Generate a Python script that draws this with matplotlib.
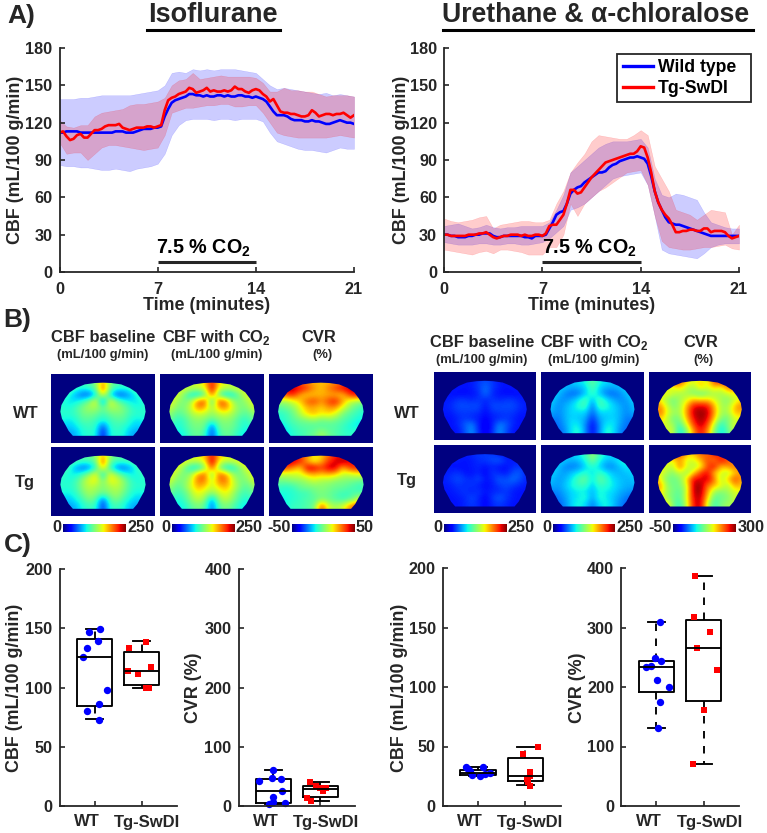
import numpy as np
import matplotlib
matplotlib.use("Agg")
import matplotlib.pyplot as plt
from matplotlib.lines import Line2D
from matplotlib.patches import Polygon

plt.rcParams['font.family'] = ['Liberation Sans', 'DejaVu Sans']
plt.rcParams['font.weight'] = 'bold'
plt.rcParams['mathtext.fontset'] = 'custom'
plt.rcParams['mathtext.bf'] = 'Liberation Sans:bold'
plt.rcParams['mathtext.rm'] = 'Liberation Sans:bold'

W, H = 767, 833
INK = '#262626'
FS = 12.9
TICK = 11.7
HEAD = 11.9

time_line = [i * 0.25 for i in range(85)]
time_band = [i * 0.5 for i in range(43)]

iso_wt = [112,112,113,113,113,113,112,112, 112,112,112,112,112,112,112,112,
          113,113,113,112,112,112,113,114, 115,115,115,116, 116,117,125,131,
          136,138,139,140, 141,143,143,142, 142,141,142,141, 141,142,142,141,
          142,141,141,142, 142,141,141,140, 141,140,139,137, 133,129,126,126,
          126,125,123,122, 122,122,121,121, 122,121,121,120, 119,119,120,121,
          122,121,120,120, 119]
iso_tg = [112,113,109,106, 107,110,111,108, 108,111,114,114, 115,117,118,118,
          118,119,116,115, 114,115,116,116, 116,117,117,116, 117,118,130,138,
          140,141,143,144, 145,148,147,144, 145,146,148,145, 146,145,145,146,
          145,146,149,147, 147,145,144,146, 147,146,143,141, 137,139,134,129,
          128,128,127,127, 126,125,125,126, 130,128,125,126, 127,127,126,127,
          127,128,126,124, 126]
iso_wt_hi = [139,139,139,140,140,141,142,142,142,142,142,143,144,145,146,150,160,161,160,163,162,163,162,163,163,163,162,161,160,155,150,147,148,147,146,145,144,143,144,142,143,142,141]
iso_wt_lo = [86,85,85,84,84,83,82,82,83,82,81,83,84,85,87,95,110,118,122,123,123,123,122,123,123,122,123,123,123,121,112,105,103,101,99,98,98,97,96,98,100,99,99]
iso_tg_hi = [122,117,116,118,118,125,128,129,130,131,134,135,135,136,137,140,150,154,155,160,155,156,157,158,157,157,157,157,156,152,145,145,148,146,146,145,145,143,141,142,142,142,141]
iso_tg_lo = [104,95,96,96,90,95,100,102,102,101,100,99,98,99,100,110,128,130,132,132,133,134,134,135,135,133,133,134,134,128,120,112,110,109,108,108,108,108,108,109,110,109,108]

ure_wt = [30,30,29,29, 28,28,28,29, 29,30,30,31, 31,31,29,28, 28,29,29,29, 29,29,29,28,
          28,27,29,29, 29,30,35,40, 46,48,49,55, 63,66,68,69, 72,74,76,78, 80,80,81,84,
          86,87,89,90, 91,92,92,93, 92,91,87,77, 65,56,50,44, 40,39,38,38, 37,36,35,34,
          33,32,31,30, 29,29,29,29, 29,29,29,29, 29]
ure_tg = [30,30,29,29, 29,29,29,30, 30,30,31,31, 32,30,28,27, 28,29,29,30, 30,30,29,30,
          29,29,30,30, 29,31,37,38, 38,42,46,55, 66,66,63,64, 68,72,76,79, 82,85,88,89,
          90,91,92,93, 94,95,95,97, 101,100,92,80, 65,56,50,46, 43,38,32,32, 33,33,34,34,
          33,33,35,35, 32,33,33,33, 32,29,27,28, 29]
ure_wt_hi = [37,38,39,37,35,36,38,36,35,36,36,37,37,37,37,40,50,62,80,85,90,95,100,103,105,105,105,106,107,100,75,62,60,63,62,60,58,48,40,38,36,35,35]
ure_wt_lo = [24,23,22,22,22,23,23,22,22,23,23,22,22,23,24,27,32,37,50,52,55,60,65,70,75,77,78,79,80,70,45,18,15,14,13,12,11,15,20,22,23,23,23]
ure_tg_hi = [43,41,40,41,42,44,45,35,38,39,40,41,41,40,40,42,55,65,80,88,95,105,110,109,108,107,107,110,114,110,85,75,65,50,48,46,42,46,50,49,48,30,38]
ure_tg_lo = [18,17,16,15,14,16,17,15,18,18,17,16,14,14,14,20,20,30,55,45,55,60,65,68,72,76,80,81,82,70,45,25,20,19,18,18,19,20,20,21,22,19,18]

co2_window = [7, 14]

# Maps: percent of the colour range on a coarse grid
map_iso_wt_base = [
 [42,42,42,42,42,45,50,75,50,45,42,42,42,42,42],
 [42,42,45,42,38,40,48,85,48,40,38,42,45,42,42],
 [42,42,40,30,22,20,35,65,35,20,22,30,40,42,42],
 [40,40,35,35,40,50,65,20,65,50,40,35,35,40,40],
 [40,40,38,42,50,55,55,48,55,55,50,42,38,40,40],
 [42,40,40,42,48,50,48,42,48,50,48,42,40,40,42],
 [38,38,35,38,45,45,42,38,42,45,45,38,35,38,38],
 [35,35,32,35,40,42,40,20,40,42,40,35,32,35,35],
 [30,30,28,30,38,40,38,12,38,40,38,30,28,30,30]]
map_iso_wt_co2 = [
 [50,50,50,50,55,62,68,90,68,62,55,50,50,50,50],
 [55,55,60,62,60,58,62,95,62,58,60,62,60,55,55],
 [60,60,62,50,35,32,45,82,45,32,35,50,62,60,60],
 [62,62,55,48,55,80,85,35,85,80,55,48,55,62,62],
 [60,60,50,50,60,78,72,55,72,78,60,50,50,60,60],
 [52,52,45,48,55,60,58,52,58,60,55,48,45,52,52],
 [48,48,40,42,50,52,50,45,50,52,50,42,40,48,48],
 [42,42,38,42,48,50,48,22,48,50,48,42,38,42,42],
 [38,38,35,38,45,48,42,18,42,48,45,38,35,38,38]]
map_iso_wt_cvr = [
 [75,80,85,85,80,75,72,70,72,75,80,85,85,80,75],
 [85,90,95,95,92,85,75,70,78,85,92,95,95,88,80],
 [72,78,85,88,72,68,70,72,72,72,68,85,92,85,72],
 [58,55,55,62,70,82,85,75,85,90,75,60,55,52,50],
 [45,45,48,52,62,72,72,68,75,75,62,52,45,42,42],
 [40,40,42,48,58,68,72,65,68,62,50,45,42,38,38],
 [38,38,42,45,48,50,52,48,50,48,45,42,38,35,55],
 [32,32,38,42,45,45,45,45,45,45,42,38,35,35,60],
 [30,30,35,40,42,45,48,55,48,45,42,40,42,60,70]]
map_iso_tg_base = [
 [42,42,42,42,45,48,52,72,52,48,45,42,42,42,42],
 [42,42,45,45,42,42,48,85,48,42,42,45,45,42,42],
 [45,45,42,30,22,25,40,70,40,25,22,30,42,45,45],
 [42,42,38,36,42,52,65,32,65,52,42,36,38,42,42],
 [40,40,38,42,52,62,65,48,65,62,52,42,38,40,40],
 [42,40,40,42,52,58,55,50,55,58,52,42,40,40,42],
 [38,38,36,40,48,55,52,48,52,55,48,40,36,38,38],
 [35,35,32,36,42,50,45,22,45,50,42,36,32,35,35],
 [30,30,28,30,38,42,40,15,40,42,38,30,28,30,30]]
map_iso_tg_co2 = [
 [52,52,55,55,60,65,70,92,70,65,60,55,55,52,52],
 [58,60,65,65,60,58,65,97,65,58,60,65,65,60,58],
 [65,65,62,50,35,35,50,85,50,35,35,50,62,65,65],
 [65,62,55,48,55,75,82,45,82,75,55,48,55,62,65],
 [62,60,50,50,60,80,78,58,78,80,60,50,50,60,62],
 [55,52,45,50,62,72,68,58,68,72,62,50,45,52,55],
 [48,48,42,45,55,65,58,52,58,65,55,45,42,48,48],
 [42,42,38,42,52,58,52,28,52,58,52,42,38,42,42],
 [38,38,35,38,45,50,45,22,45,50,45,38,35,38,38]]
map_iso_tg_cvr = [
 [78,85,90,90,85,75,65,68,80,88,90,88,85,80,78],
 [85,92,95,95,88,72,62,72,85,92,98,92,88,80,75],
 [78,82,85,75,68,95,95,85,95,95,70,85,90,82,75],
 [65,60,58,60,62,70,72,70,72,68,60,58,62,65,60],
 [48,48,50,52,52,55,60,55,55,52,50,50,48,45,50],
 [42,42,40,42,48,50,50,52,50,48,48,45,42,42,55],
 [38,38,38,40,42,42,48,50,48,45,42,42,45,40,65],
 [35,35,38,40,42,45,45,50,48,45,42,45,55,70,75],
 [30,30,38,42,42,45,48,85,60,55,60,75,85,80,60]]
map_ure_wt_base = [
 [14,14,14,14,14,15,18,20,18,15,14,14,14,14,14],
 [14,14,15,15,14,15,18,24,18,15,14,15,15,14,14],
 [15,15,14,13,13,14,16,24,16,14,13,13,14,15,15],
 [15,15,15,18,18,16,18,16,18,16,18,18,15,15,15],
 [15,15,17,20,20,20,20,14,20,20,20,20,17,15,15],
 [15,15,15,18,18,18,17,13,17,18,18,18,15,15,15],
 [14,14,14,16,18,16,15,12,15,16,18,16,14,14,14],
 [14,14,14,16,22,26,15,10,15,26,22,16,14,14,14],
 [14,14,14,14,20,28,16,10,16,28,20,14,14,14,14]]
map_ure_wt_co2 = [
 [28,28,28,28,32,35,38,48,38,35,32,28,28,28,28],
 [30,30,33,32,30,30,34,45,34,30,30,32,33,30,30],
 [34,34,32,26,22,24,32,42,32,24,22,26,32,34,34],
 [34,34,28,26,30,36,45,30,45,36,30,26,28,34,34],
 [32,32,26,30,34,40,44,22,44,40,34,30,26,32,32],
 [28,30,26,30,34,34,34,22,34,34,34,30,26,30,28],
 [24,26,24,30,34,32,30,16,30,32,34,30,24,26,24],
 [22,22,24,28,36,36,26,12,26,36,36,28,24,22,22],
 [20,20,22,26,36,40,26,12,26,40,36,26,22,20,20]]
map_ure_wt_cvr = [
 [62,70,78,90,85,70,62,68,60,85,90,85,70,60,60],
 [65,68,62,60,70,58,55,70,62,70,62,80,78,62,60],
 [70,62,65,60,55,55,50,45,50,55,55,60,65,62,72],
 [82,65,55,48,55,62,72,68,70,62,55,50,60,65,80],
 [72,78,62,50,55,72,90,92,90,72,55,55,70,80,72],
 [62,85,65,55,55,75,95,98,95,75,55,55,72,72,60],
 [55,72,60,48,50,72,90,98,92,70,50,48,60,65,55],
 [50,65,60,55,42,62,85,95,85,58,38,50,62,55,50],
 [50,55,60,60,35,50,75,90,78,50,35,45,60,55,50]]
map_ure_tg_base = [
 [14,14,14,14,15,16,18,18,18,15,14,14,14,14,14],
 [14,14,15,16,14,15,17,18,20,22,16,15,15,14,14],
 [15,15,14,13,14,15,16,14,16,14,14,16,18,15,15],
 [15,15,16,18,14,14,16,12,18,16,14,20,22,15,15],
 [16,15,18,20,18,16,20,14,16,22,20,24,20,16,15],
 [15,15,15,18,16,18,15,13,15,18,20,18,16,15,15],
 [14,14,15,16,18,15,18,14,16,16,18,15,14,14,14],
 [14,14,14,15,16,20,16,12,18,22,18,15,14,14,14],
 [14,14,14,14,16,18,16,12,16,18,16,14,14,14,14]]
map_ure_tg_co2 = [
 [30,30,30,30,33,36,42,55,42,36,33,30,30,30,30],
 [32,32,34,33,30,32,38,50,38,32,32,38,40,32,32],
 [34,34,32,26,24,26,34,40,34,26,26,32,36,34,34],
 [34,34,30,28,32,36,40,34,42,36,32,30,32,34,34],
 [32,32,28,30,36,44,48,34,48,42,34,32,30,32,32],
 [30,30,28,32,38,42,42,32,42,40,36,32,30,30,30],
 [26,26,26,30,34,36,36,30,38,36,34,30,28,26,26],
 [22,22,24,28,34,36,40,28,40,36,32,28,24,22,22],
 [20,20,22,26,34,38,34,24,34,38,32,26,22,20,20]]
map_ure_tg_cvr = [
 [62,70,78,88,85,72,68,82,78,90,85,78,62,60,60],
 [65,60,68,62,75,60,62,70,85,75,92,85,70,60,60],
 [72,68,60,58,80,62,55,62,82,92,70,75,82,70,72],
 [78,62,58,50,62,50,68,85,92,70,62,55,68,78,72],
 [85,65,50,48,50,68,92,90,95,80,55,70,85,72,80],
 [65,80,55,48,50,60,95,98,80,72,65,55,75,70,62],
 [62,72,55,50,45,60,95,98,75,55,50,55,60,65,60],
 [55,68,55,48,45,62,92,95,70,45,48,50,60,55,55],
 [50,60,70,50,40,60,90,95,60,42,50,55,55,80,60]]
brain_outline = [(.50,.13),(.42,.135),(.325,.155),(.245,.205),(.18,.27),(.135,.36),(.10,.455),(.09,.55),
                 (.105,.65),(.14,.745),(.17,.83),(.21,.90),(.79,.90),(.83,.83),(.86,.745),(.895,.65),
                 (.91,.55),(.90,.455),(.865,.36),(.82,.27),(.755,.205),(.675,.155),(.58,.135)]

# Box summaries: low whisker, q1, median, q3, high whisker
box_c1_wt = [73, 84, 126, 141, 149]
box_c1_tg = [100, 102, 114, 130, 139]
box_c2_wt = [3, 5, 25, 46, 60]
box_c2_tg = [8, 16, 29, 33, 41]
box_c3_wt = [25, 26, 28, 30, 33]
box_c3_tg = [17.5, 21, 25, 40, 50]
box_c4_wt = [131, 192, 233, 244, 309]
box_c4_tg = [71, 177, 265, 313, 386]

pts_c1_wt_x = [0.87, 1.11, 1.07, 0.84, 0.74, 1.26, 1.09, 0.84, 1.09]
pts_c1_wt_y = [146.6, 149, 139.6, 133.4, 126, 98, 86, 80, 72.8]
pts_c1_tg_x = [1.73, 2.10, 2.20, 1.70, 1.91, 2.10, 2.16]
pts_c1_tg_y = [133.7, 138.8, 117.7, 113.8, 111.8, 100, 100]
pts_c2_wt_x = [0.99, 0.70, 0.96, 1.17, 1.18, 0.99, 0.98, 0.90, 1.25]
pts_c2_wt_y = [60, 42.7, 47, 46, 25, 16, 6.7, 3, 5]
pts_c2_tg_x = [1.79, 1.91, 2.13, 1.99, 2.06, 1.72, 1.81]
pts_c2_tg_y = [41, 34, 31, 30, 25, 13.5, 8]
pts_c3_wt_x = [0.75, 0.79, 0.83, 0.88, 1.05, 1.11, 1.15, 1.26]
pts_c3_wt_y = [32.5, 31, 29, 26, 25, 33, 27, 28]
pts_c3_tg_x = [2.27, 1.96, 2.09, 2.09, 2.03, 2.05, 2.11]
pts_c3_tg_y = [50, 44, 28.6, 25, 23, 20.5, 17]
pts_c4_wt_x = [1.08, 0.98, 1.09, 0.77, 0.88, 1.02, 1.26, 1.08, 1.03]
pts_c4_wt_y = [309, 248, 244, 233, 234.5, 211, 200, 174, 131]
pts_c4_tg_x = [1.81, 1.80, 2.13, 1.87, 2.29, 2.01, 1.78]
pts_c4_tg_y = [386.5, 317.5, 293, 265, 228, 161, 71]

box_names = ['WT', 'Tg-SwDI']
trace_names = ['Wild type', 'Tg-SwDI']
BLUE, RED = '#0000ff', '#ff0000'

fig = plt.figure(figsize=(W / 100, H / 100), dpi=100, facecolor='white')


def add_axes(x0, y0, x1, y1):
    return fig.add_axes([x0 / W, 1 - y1 / H, (x1 - x0) / W, (y1 - y0) / H])


def txt(x, y, s, size=FS, ha='center', va='center', rot=0, color=INK):
    return fig.text(x / W, 1 - y / H, s, fontsize=size, ha=ha, va=va,
                    rotation=rot, color=color, fontweight='bold')


def style(ax):
    for s in ('top', 'right'):
        ax.spines[s].set_visible(False)
    for s in ('left', 'bottom'):
        ax.spines[s].set_linewidth(1.3)
        ax.spines[s].set_color(INK)
    ax.tick_params(direction='in', length=3.5, width=1.2, color=INK, labelcolor=INK,
                   labelsize=TICK)
    ax.tick_params(axis='x', pad=7)
    ax.tick_params(axis='y', pad=5)
    ax.patch.set_alpha(0)


def trace_panel(rect, wt, wt_lo, wt_hi, tg, tg_lo, tg_hi, label_x):
    ax = add_axes(*rect)
    style(ax)
    for m, lo, hi, c in ((wt, wt_lo, wt_hi, BLUE), (tg, tg_lo, tg_hi, RED)):
        ax.fill_between(time_band, lo, hi, color=c, alpha=0.2, lw=0.3)
        ax.plot(time_line, m, color=c, lw=1.9, solid_joinstyle='round')
    ax.set_xlim(0, 21)
    ax.set_ylim(0, 180)
    ax.set_xticks([0, 7, 14, 21])
    ax.set_yticks(range(0, 181, 30))
    ax.plot(co2_window, [8.3, 8.3], color=INK, lw=2.2, solid_capstyle='butt')
    ax.text(label_x, 19, r'7.5 % CO$_{\mathbf{2}}$', fontsize=14.2, color='black',
            ha='center', va='center', fontweight='bold')
    return ax


trace_panel((59.5, 48, 354, 272), iso_wt, iso_wt_lo, iso_wt_hi, iso_tg, iso_tg_lo, iso_tg_hi, 10.3)
ax2 = trace_panel((444, 48, 739, 272), ure_wt, ure_wt_lo, ure_wt_hi, ure_tg, ure_tg_lo, ure_tg_hi, 10.36)
handles = [Line2D([], [], color=BLUE, lw=2.4), Line2D([], [], color=RED, lw=2.4)]
leg = ax2.legend(handles, trace_names, loc='upper left',
                 bbox_to_anchor=(617.3 / W, 1 - 99 / H, 133.4 / W, 45 / H),
                 bbox_transform=fig.transFigure, mode='expand',
                 borderaxespad=0, fontsize=12.7, fancybox=False, framealpha=1, edgecolor=INK,
                 handlelength=1.75, handletextpad=0.25, labelspacing=0.2, borderpad=0.3,
                 labelcolor='black')
leg.get_frame().set_linewidth(1.3)

for x, ylab in ((16, 'CBF (mL/100 g/min)'), (401, 'CBF (mL/100 g/min)')):
    txt(x, 160, ylab, rot=90)
txt(207, 306, 'Time (minutes)')
txt(592, 306, 'Time (minutes)')

txt(213, 15, 'Isoflurane', size=19.5)
txt(596, 15, 'Urethane & α-chloralose', size=19.2)
fig.add_artist(Line2D([147 / W, 280 / W], [1 - 30 / H] * 2, color='black', lw=2.2))
fig.add_artist(Line2D([442.7 / W, 753 / W], [1 - 30 / H] * 2, color='black', lw=2.2))
txt(7, 16, 'A)', size=19, ha='left')
txt(3, 320, 'B)', size=19, ha='left')
txt(4, 545, 'C)', size=19, ha='left')


def brain(rect, grid):
    ax = add_axes(*rect)
    ax.set_facecolor(plt.get_cmap('jet')(0.0))
    im = ax.imshow(grid, cmap='jet', vmin=0, vmax=100, aspect='auto',
                   extent=(0, 1, .91, .09), interpolation='bicubic')
    ax.set_xlim(0, 1)
    ax.set_ylim(1, 0)
    ax.set_xticks([])
    ax.set_yticks([])
    for s in ax.spines.values():
        s.set_visible(False)
    im.set_clip_path(Polygon(brain_outline, transform=ax.transData))


iso_cols = [(51, 155), (160, 264), (268.7, 373)]
iso_rows = [(373.7, 442.7), (446.7, 515.7)]
ure_cols = [(433.7, 536), (541.3, 643.7), (648.7, 751)]
ure_rows = [(372, 440), (445.3, 513.3)]
iso_maps = [[map_iso_wt_base, map_iso_wt_co2, map_iso_wt_cvr],
            [map_iso_tg_base, map_iso_tg_co2, map_iso_tg_cvr]]
ure_maps = [[map_ure_wt_base, map_ure_wt_co2, map_ure_wt_cvr],
            [map_ure_tg_base, map_ure_tg_co2, map_ure_tg_cvr]]
for rows, cols, maps in ((iso_rows, iso_cols, iso_maps), (ure_rows, ure_cols, ure_maps)):
    for (y0, y1), row in zip(rows, maps):
        for (x0, x1), grid in zip(cols, row):
            brain((x0, y0, x1, y1), grid)

ramp = np.linspace(0, 1, 256)[None, :]
bars = [(62.7, 125.7, '0', '250'), (171.7, 234.3, '0', '250'), (292, 354.3, '-50', '50'),
        (444, 506.3, '0', '250'), (552.7, 614.7, '0', '250'), (673.3, 735.7, '-50', '300')]
for x0, x1, lo, hi in bars:
    ax = add_axes(x0, 524, x1, 532)
    ax.imshow(ramp, cmap='jet', aspect='auto')
    ax.axis('off')
    txt(x0 - 1.5, 527.5, lo, ha='right', size=TICK)
    txt(x1 + 1.5, 527.5, hi, ha='left', size=TICK)

sub = r'(mL/100 g/min)'
co2_head = r'CBF with CO$_{\mathbf{2}}$'
for cx, head, unit, ux in ((102.7, 'CBF baseline', sub, 102.7), (216, co2_head, sub, 217),
                           (319, 'CVR', '(%)', 322)):
    txt(cx, 338, head, size=HEAD)
    txt(ux, 355, unit, size=9.4)
for cx, head, unit, ux in ((482, 'CBF baseline', sub, 482), (594, co2_head, sub, 594),
                           (700.7, 'CVR', '(%)', 703)):
    txt(cx, 342, head, size=HEAD)
    txt(ux, 360, unit, size=9.4)
txt(26, 413, 'WT', size=TICK + 0.2)
txt(25, 482, 'Tg', size=TICK + 0.2)
txt(407, 413, 'WT', size=TICK + 0.2)
txt(407, 481, 'Tg', size=TICK + 0.2)


def box_panel(rect, ymax, step, ylab, wt, tg, wx, wy, tx, ty, lab_x, name_x):
    ax = add_axes(*rect)
    style(ax)
    stats = []
    for b in (wt, tg):
        stats.append(dict(whislo=b[0], q1=b[1], med=b[2], q3=b[3], whishi=b[4],
                          fliers=[], label=''))
    lp = dict(color='black', lw=1.35)
    ax.bxp(stats, positions=[1, 2], widths=0.75, capwidths=0.37, showfliers=False,
           boxprops=lp, medianprops=lp, capprops=lp,
           whiskerprops=dict(color='black', lw=1.35, linestyle=(0, (4, 4))))
    ax.plot(wx, wy, 'o', color=BLUE, ms=5.3, mew=0, clip_on=False)
    ax.plot(tx, ty, 's', color=RED, ms=5, mew=0, clip_on=False)
    ax.set_xlim(0.25, 2.75)
    ax.set_ylim(0, ymax)
    ax.set_yticks(range(0, ymax + 1, step))
    ax.set_xticklabels([])
    txt(name_x[0], 822, box_names[0], size=12)
    txt(name_x[1], 822, box_names[1], size=12)
    txt(lab_x, 687.5, ylab, rot=90)


ylab_cbf = 'CBF (mL/100 g/min)'
ylab_cvr = 'CVR (%)'
box_panel((59.5, 569, 177, 806), 200, 50, ylab_cbf, box_c1_wt, box_c1_tg,
          pts_c1_wt_x, pts_c1_wt_y, pts_c1_tg_x, pts_c1_tg_y, 15, (86.5, 147))
box_panel((238.5, 569, 355, 806), 400, 100, ylab_cvr, box_c2_wt, box_c2_tg,
          pts_c2_wt_x, pts_c2_wt_y, pts_c2_tg_x, pts_c2_tg_y, 194, (265.5, 326))
box_panel((442.7, 568, 560.7, 806), 200, 50, ylab_cbf, box_c3_wt, box_c3_tg,
          pts_c3_wt_x, pts_c3_wt_y, pts_c3_tg_x, pts_c3_tg_y, 400, (470, 530))
box_panel((621, 568, 739, 806), 400, 100, ylab_cvr, box_c4_wt, box_c4_tg,
          pts_c4_wt_x, pts_c4_wt_y, pts_c4_tg_x, pts_c4_tg_y, 577, (649, 710))

fig.savefig('out.png', dpi=100)
